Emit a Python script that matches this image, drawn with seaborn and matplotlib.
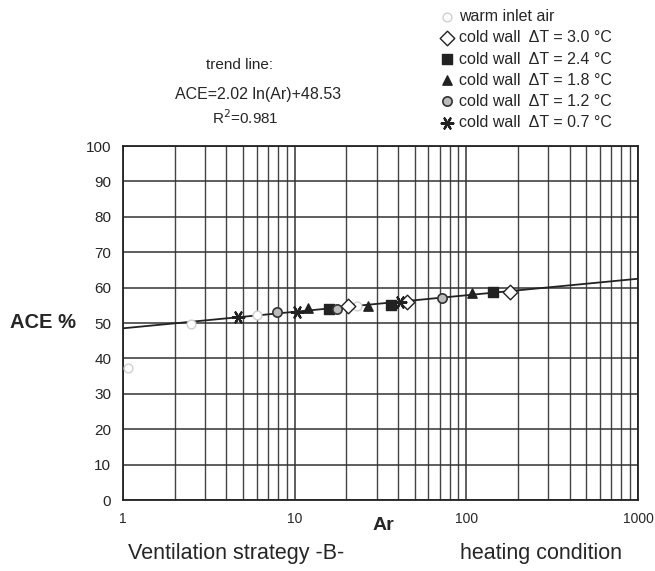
import numpy as np
import pandas as pd
import matplotlib.pyplot as plt
import seaborn as sns

sns.set_style("white")
plt.rcParams['font.family'] = ['Liberation Sans', 'DejaVu Sans']

# values
warm_ar = [1.07, 2.5, 6.0, 23.0]
warm_ace = [37.3, 49.8, 52.3, 54.9]
dt30_ar = [20.4, 45.1, 179]
dt30_ace = [54.8, 55.9, 58.8]
dt24_ar = [15.8, 36.4, 143]
dt24_ace = [54.0, 55.1, 58.8]
dt18_ar = [11.9, 26.7, 108]
dt18_ace = [54.2, 54.8, 58.5]
dt12_ar = [7.9, 17.6, 72.1]
dt12_ace = [53.1, 54.0, 57.1]
dt07_ar = [4.67, 10.3, 41.0]
dt07_ace = [51.7, 53.1, 55.9]
trend_ar = [1, 1000]
trend_ace = [48.5, 62.5]

x_ticks = [1, 10, 100, 1000]
x_labels = ["1", "10", "100", "1000"]
y_ticks = list(range(0, 101, 10))

fig = plt.figure(figsize=(6.55, 5.71), dpi=100)
ax = fig.add_axes([123/655, 1 - 500/571, (638-123)/655, (500-146)/571])

sns.lineplot(x=trend_ar, y=trend_ace, ax=ax, color="#222222", lw=1.3, zorder=3)

series = [
    (warm_ar, warm_ace, "warm inlet air", dict(marker="o", s=40, facecolor="white", edgecolor="#d0d0d0", linewidth=1.0)),
    (dt30_ar, dt30_ace, "cold wall  \u0394T = 3.0 \u00b0C", dict(marker="D", s=55, facecolor="white", edgecolor="#222222", linewidth=1.0)),
    (dt24_ar, dt24_ace, "cold wall  \u0394T = 2.4 \u00b0C", dict(marker="s", s=45, facecolor="#222222", edgecolor="#222222", linewidth=1.0)),
    (dt18_ar, dt18_ace, "cold wall  \u0394T = 1.8 \u00b0C", dict(marker="^", s=45, facecolor="#222222", edgecolor="#222222", linewidth=1.0)),
    (dt12_ar, dt12_ace, "cold wall  \u0394T = 1.2 \u00b0C", dict(marker="o", s=45, facecolor="#bbbbbb", edgecolor="#333333", linewidth=1.2)),
    (dt07_ar, dt07_ace, "cold wall  \u0394T = 0.7 \u00b0C", dict(marker=(6, 2, 90), s=70, color="#222222", linewidth=1.6)),
]

for xs, ys, lab, kw in series:
    sns.scatterplot(x=xs, y=ys, ax=ax, zorder=4, label=lab, **kw)

ax.set_xscale("log")
ax.set_xlim(1, 1000)
ax.set_ylim(0, 100)
ax.set_xticks(x_ticks)
ax.set_xticklabels(x_labels)
ax.set_yticks(y_ticks)
ax.tick_params(axis="y", which="major", labelsize=11, length=5, direction="out", color="#333333")
ax.tick_params(axis="x", which="major", labelsize=10, length=5, direction="out", color="#333333")
ax.tick_params(axis="x", which="minor", length=0)
ax.grid(True, which="major", color="#333333", lw=1.1)
ax.grid(True, which="minor", axis="x", color="#444444", lw=1.0)
for sp in ax.spines.values():
    sp.set_color("#222222")
    sp.set_linewidth(1.3)
ax.set_xlabel("")
ax.set_ylabel("")

h, l = ax.get_legend_handles_labels()
ax.get_legend().remove()
fig.legend(h, l, loc="upper left", bbox_to_anchor=(433/655, 1 - 3/571), frameon=False,
           fontsize=11.5, handletextpad=0.25, labelspacing=0.38, borderaxespad=0, handlelength=1.0)

fig.text(240/655, 1 - 65/571, "trend line:", ha="center", va="center", fontsize=11)
fig.text(258/655, 1 - 95/571, "ACE=2.02 ln(Ar)+48.53", ha="center", va="center", fontsize=11.5)
fig.text(245/655, 1 - 118/571, "R$^{2}$=0.981", ha="center", va="center", fontsize=11)

fig.text(10/655, 1 - 323/571, "ACE %", ha="left", va="center", fontsize=14.5, fontweight="bold")
fig.text(383/655, 1 - 526/571, "Ar", ha="center", va="center", fontsize=14, fontweight="bold")
fig.text(236/655, 1 - 554/571, "Ventilation strategy -B-", ha="center", va="center", fontsize=15.5)
fig.text(541/655, 1 - 554/571, "heating condition", ha="center", va="center", fontsize=15.5)

fig.savefig("out.png", dpi=100)
